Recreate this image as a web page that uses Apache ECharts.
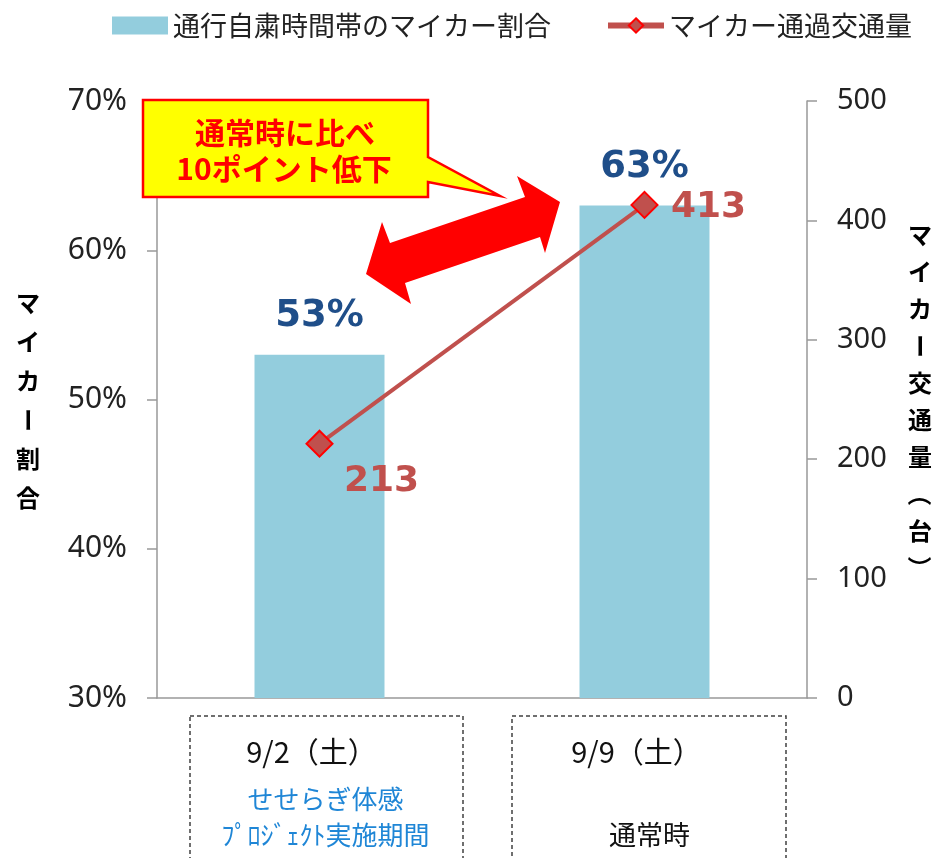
<!DOCTYPE html>
<html>
<head>
<meta charset="utf-8">
<script src="https://cdn.jsdelivr.net/npm/echarts@6/dist/echarts.min.js"></script>
<style>
  html, body { margin: 0; padding: 0; background: #fff; }
  #chart { width: 935px; height: 858px; }
</style>
</head>
<body>
<div id="chart"></div>
<script>
// data
var categories = ['9/2（土）', '9/9（土）'];
var periodNotes = ['せせらぎ体感\nﾌﾟﾛｼﾞｪｸﾄ実施期間', '\n通常時'];
var shareValues = [53, 63];        // マイカー割合 (%)
var trafficValues = [213, 413];    // マイカー通過交通量 (台)
var shareName = '通行自粛時間帯のマイカー割合';
var trafficName = 'マイカー通過交通量';
var leftTitle = 'マイカー割合';
var rightTitle = 'マイカー交通量（台）';
var calloutLines = ['通常時に比べ', '10ポイント低下'];

var jp = "'Noto Sans CJK JP', sans-serif";
var myChart = echarts.init(document.getElementById('chart'));

// vertical axis titles, one char per text; long vowel and brackets turned
function verticalTitle(str, x, y0, step) {
  var els = [];
  for (var i = 0; i < str.length; i++) {
    var ch = str[i];
    var turn = (ch === 'ー' || ch === '（' || ch === '）');
    els.push({
      type: 'text',
      x: x,
      y: y0 + i * step,
      rotation: turn ? -Math.PI / 2 : 0,
      style: {
        text: ch, fill: '#000', font: 'bold 24px ' + jp,
        align: 'center', verticalAlign: 'middle'
      }
    });
  }
  return els;
}

var labelOffsets = [[62, 38], [64, 3]];

var graphics = [
  // dashed boxes below the axis
  { type: 'rect', shape: { x: 190, y: 716, width: 273, height: 160 },
    style: { fill: 'none', stroke: '#404040', lineWidth: 1.5, lineDash: [4, 3] } },
  { type: 'rect', shape: { x: 512, y: 716, width: 274, height: 160 },
    style: { fill: 'none', stroke: '#404040', lineWidth: 1.5, lineDash: [4, 3] } },
  // callout
  { type: 'polygon', z: 20,
    shape: { points: [[143, 100], [428, 100], [428, 157], [500, 196], [428, 182], [428, 197], [143, 197]] },
    style: { fill: '#FFFF00', stroke: '#FF0000', lineWidth: 2.5 } },
  { type: 'text', z: 21, x: 285, y: 133,
    style: { text: calloutLines[0], fill: '#FF0000', font: 'bold 30px ' + jp, align: 'center', verticalAlign: 'middle' } },
  { type: 'text', z: 21, x: 284, y: 169,
    style: { text: calloutLines[1], fill: '#FF0000', font: 'bold 30px ' + jp, align: 'center', verticalAlign: 'middle' } },
  // double arrow
  { type: 'polygon', z: 20,
    shape: { points: [[366, 274], [382, 222], [390, 243], [525, 197], [517, 176], [560, 202],
                      [545, 253], [540, 237], [405, 283], [411, 304]] },
    style: { fill: '#FF0000' } }
].concat(verticalTitle(leftTitle, 28, 303, 39))
 .concat(verticalTitle(rightTitle, 920, 235, 37));

var option = {
  animation: false,
  textStyle: { fontFamily: jp },
  legend: {
    left: 107,
    top: 7,
    itemWidth: 56,
    itemHeight: 18,
    itemGap: 54,
    textStyle: { fontSize: 27, color: '#222', fontFamily: jp },
    data: [
      { name: shareName, icon: 'rect' },
      { name: trafficName, lineStyle: { width: 6 } }
    ]
  },
  grid: { left: 157, right: 128, top: 101, bottom: 160 },
  xAxis: {
    type: 'category',
    data: categories,
    axisLine: { lineStyle: { color: '#999', width: 1.5 } },
    axisTick: { length: 14, lineStyle: { color: '#999', width: 1.5 } },
    axisLabel: {
      margin: 25,
      formatter: function (value, idx) {
        var lines = periodNotes[idx].split('\n');
        var key = idx === 0 ? 'n' : 'm';
        return '{d|' + value + '}\n' + lines.map(function (l) {
          return '{' + key + '|' + (l || ' ') + '}';
        }).join('\n');
      },
      rich: {
        d: { fontSize: 29, lineHeight: 58, color: '#111', fontFamily: jp, padding: [0, 16, 0, 0] },
        n: { fontSize: 26, lineHeight: 36, color: '#1F86D6', fontFamily: jp, padding: [0, 0, 0, 12] },
        m: { fontSize: 27, lineHeight: 36, color: '#111', fontFamily: jp, padding: [0, 0, 0, 10] }
      }
    }
  },
  yAxis: [
    {
      type: 'value', min: 30, max: 70, interval: 10,
      splitLine: { show: false },
      axisLine: { show: true, lineStyle: { color: '#999', width: 1.5 } },
      axisTick: { show: true, length: 10, lineStyle: { color: '#999', width: 1.5 } },
      axisLabel: { formatter: '{value}%', margin: 30, fontSize: 30, color: '#222', fontFamily: "'Noto Sans', sans-serif" }
    },
    {
      type: 'value', min: 0, max: 500, interval: 100,
      splitLine: { show: false },
      axisLine: { show: true, lineStyle: { color: '#999', width: 1.5 } },
      axisTick: { show: true, length: 10, lineStyle: { color: '#999', width: 1.5 } },
      axisLabel: { margin: 30, fontSize: 29, color: '#222', fontFamily: "'Noto Sans', sans-serif" }
    }
  ],
  series: [
    {
      name: shareName,
      type: 'bar',
      yAxisIndex: 0,
      barWidth: '40%',
      itemStyle: { color: '#93CDDD' },
      label: {
        show: true, position: 'top', distance: 20,
        formatter: '{c}%',
        color: '#1F4E89', fontSize: 37, fontWeight: 'bold',
        fontFamily: "'DejaVu Sans', sans-serif"
      },
      data: shareValues
    },
    {
      name: trafficName,
      type: 'line',
      yAxisIndex: 1,
      symbol: 'diamond',
      symbolSize: 26,
      lineStyle: { color: '#C0504D', width: 4 },
      itemStyle: { color: '#C0504D', borderColor: '#FF0000', borderWidth: 2 },
      z: 5,
      data: trafficValues.map(function (v, i) {
        return {
          value: v,
          label: {
            show: true, position: 'inside', offset: labelOffsets[i],
            color: '#C0504D', fontSize: 36, fontWeight: 'bold',
            fontFamily: "'DejaVu Sans', sans-serif"
          }
        };
      })
    }
  ],
  graphic: graphics
};
myChart.setOption(option);
</script>
</body>
</html>
